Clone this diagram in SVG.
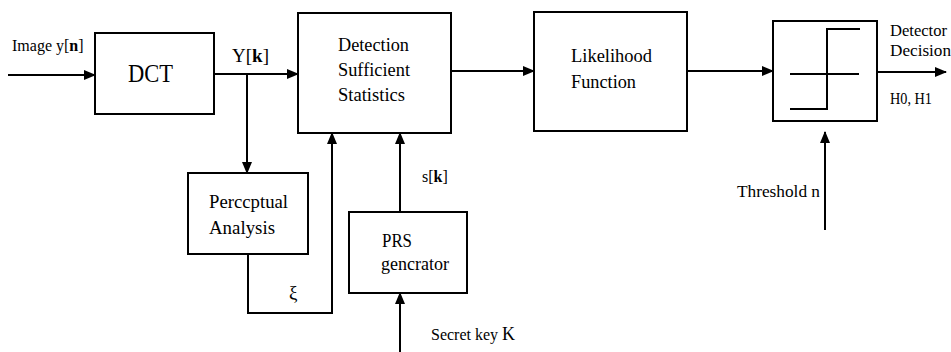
<svg xmlns="http://www.w3.org/2000/svg" width="951" height="352" viewBox="0 0 951 352" font-family="'Liberation Serif', 'Times New Roman', Times, 'DejaVu Serif', serif">
<defs>
<marker id="ah" markerUnits="userSpaceOnUse" markerWidth="12" markerHeight="10" refX="11" refY="5" orient="auto">
<path d="M0,0 L12,5 L0,10 Z" fill="#000"/>
</marker>
<style>
.box{fill:#fff;stroke:#000;stroke-width:2}
.ln{fill:none;stroke:#000;stroke-width:2}
.c{fill:none;stroke:#000;stroke-width:2;marker-end:url(#ah)}
text{font-family:'Liberation Serif','Times New Roman',Times,'DejaVu Serif',serif;fill:#000}
.t{font-size:19px}
.s{font-size:16px}
</style>
</defs>
<rect width="951" height="352" fill="#fff"/>
<g id="connectors">
<path class="c" d="M8 75 H95"/>
<path class="c" d="M214 74 H298"/>
<path class="c" d="M247 74 V173"/>
<path class="c" d="M248 254 V313 H332 V133"/>
<path class="c" d="M400 212 V133"/>
<path class="c" d="M400 352 V293"/>
<path class="c" d="M451 71 H534"/>
<path class="c" d="M687 71 H773"/>
<path class="c" d="M877 72 H946"/>
<path class="c" d="M825 230 V132"/>
</g>
<g id="labels">
<text class="s" x="12" y="51">Image y[<tspan font-weight="bold">n</tspan>]</text>
<text class="t" x="232" y="62">Y[<tspan font-weight="bold">k</tspan>]</text>
<text class="s" x="422" y="182">s[<tspan font-weight="bold">k</tspan>]</text>
<text class="t" x="289" y="299" font-size="19">ξ</text>
<text class="s" x="431" y="340">Secret key <tspan font-size="18">K</tspan></text>
<text class="s" x="737" y="197" textLength="83" lengthAdjust="spacingAndGlyphs">Threshold n</text>
<text class="s" x="890" y="36" textLength="57" lengthAdjust="spacingAndGlyphs">Detector</text>
<text class="s" x="890" y="56" textLength="61" lengthAdjust="spacingAndGlyphs">Decision</text>
<text class="s" x="890" y="104" textLength="42" lengthAdjust="spacingAndGlyphs">H0, H1</text>
</g>
<g id="dct">
<rect class="box" x="95" y="33" width="119" height="81"/>
<text x="128" y="82" font-size="25" textLength="45" lengthAdjust="spacingAndGlyphs">DCT</text>
</g>
<g id="detection">
<rect class="box" x="298" y="13" width="153" height="120"/>
<text class="t" x="338" y="51" textLength="71" lengthAdjust="spacingAndGlyphs">Detection</text>
<text class="t" x="338" y="76" textLength="72" lengthAdjust="spacingAndGlyphs">Sufficient</text>
<text class="t" x="338" y="101" textLength="67" lengthAdjust="spacingAndGlyphs">Statistics</text>
</g>
<g id="likelihood">
<rect class="box" x="534" y="12" width="153" height="119"/>
<text class="t" x="571" y="62" textLength="81" lengthAdjust="spacingAndGlyphs">Likelihood</text>
<text class="t" x="571" y="88" textLength="65" lengthAdjust="spacingAndGlyphs">Function</text>
</g>
<g id="threshold">
<rect class="box" x="773" y="21" width="104" height="100"/>
<path class="ln" d="M790 74 H859"/>
<path class="ln" d="M790 109 H827 V29 H860"/>
</g>
<g id="perceptual">
<rect class="box" x="188" y="173" width="120" height="81"/>
<text class="t" x="209" y="208" textLength="79" lengthAdjust="spacingAndGlyphs">Perccptual</text>
<text class="t" x="209" y="234" textLength="66" lengthAdjust="spacingAndGlyphs">Analysis</text>
</g>
<g id="prs">
<rect class="box" x="349" y="212" width="118" height="81"/>
<text class="t" x="382" y="247" textLength="30" lengthAdjust="spacingAndGlyphs">PRS</text>
<text class="t" x="381" y="270" textLength="68" lengthAdjust="spacingAndGlyphs">gencrator</text>
</g>
</svg>
